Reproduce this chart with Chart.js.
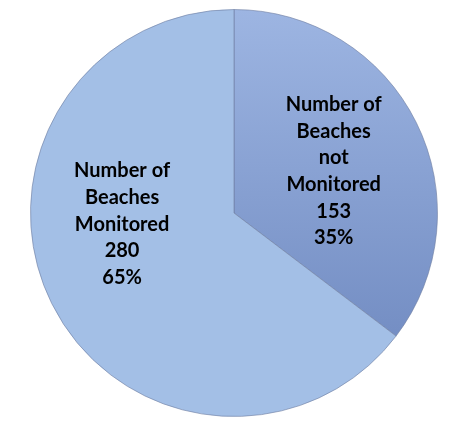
<!DOCTYPE html>
<html>
<head>
<meta charset="utf-8">
<script src="https://cdn.jsdelivr.net/npm/chart.js@4"></script>
<style>html,body{margin:0;padding:0;background:#fff;}canvas{display:block;}</style>
</head>
<body>
<canvas id="c" width="454" height="429"></canvas>
<script>
const categories = [["Number of","Beaches","not","Monitored"],["Number of","Beaches","Monitored"]];
const values = [153, 280];
const percents = ["35%", "65%"];
const sliceColors = ["#8aa3d4", "#a3bfe6"];

const labelPlugin = {
  id: 'sliceLabels',
  afterDatasetsDraw(chart) {
    const ctx = chart.ctx;
    const meta = chart.getDatasetMeta(0);
    const offs = [[0.49, -0.205], [-0.55, 0.055]];
    ctx.save();
    ctx.fillStyle = '#000';
    ctx.font = 'bold 20px Lato, "Open Sans", sans-serif';
    ctx.textAlign = 'center';
    ctx.textBaseline = 'middle';
    meta.data.forEach((arc, i) => {
      const r = arc.outerRadius;
      const cx = arc.x + offs[i][0] * r;
      const cy = arc.y + offs[i][1] * r;
      const lines = categories[i].concat([String(values[i]), percents[i]]);
      const lh = 26.6;
      const top = cy - (lines.length - 1) * lh / 2;
      lines.forEach((t, k) => ctx.fillText(t, cx, top + k * lh));
    });
    ctx.restore();
  }
};

new Chart(document.getElementById('c'), {
  type: 'pie',
  data: {
    labels: categories.map(l => l.join(' ')),
    datasets: [{
      data: values,
      backgroundColor: (c) => {
        const chart = c.chart;
        const a = chart.chartArea;
        if (!a) return sliceColors[c.dataIndex];
        if (c.dataIndex === 0) {
          const g = chart.ctx.createLinearGradient(0, a.top, 0, a.bottom * 0.85);
          g.addColorStop(0, '#9db5e2');
          g.addColorStop(1, '#728cc2');
          return g;
        }
        return sliceColors[1];
      },
      borderColor: 'rgba(110,125,160,0.6)',
      borderWidth: 1
    }]
  },
  plugins: [labelPlugin],
  options: {
    responsive: false,
    animation: false,
    layout: { padding: { top: 9, bottom: 12, left: 30, right: 16 } },
    plugins: { legend: { display: false }, tooltip: { enabled: false } }
  }
});
</script>
</body>
</html>
